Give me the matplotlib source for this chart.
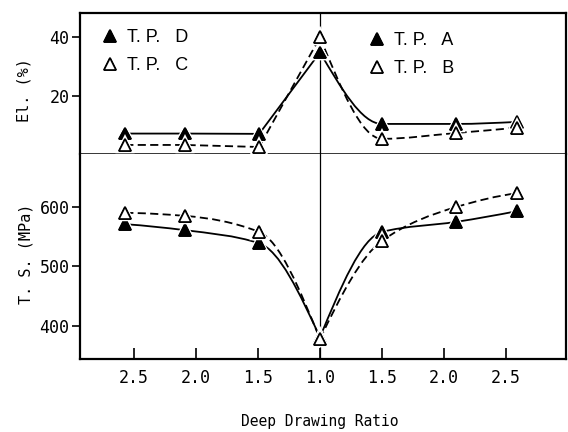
import matplotlib

matplotlib.use("Agg")
import matplotlib.patheffects as pe
import matplotlib.pyplot as plt
import numpy as np
from matplotlib.patches import PathPatch
from matplotlib.path import Path as MplPath

# deep drawing ratio, left half (T.P. D / C) and right half (T.P. A / B)
ratio_left = [2.57, 2.09, 1.49, 1.0]
ratio_right = [1.0, 1.5, 2.10, 2.59]

# elongation (%)
el_d = [7.0, 7.0, 6.9, 34.8]
el_c = [3.1, 3.1, 2.4, 40.0]
el_a = [34.8, 10.3, 10.3, 11.0]
el_b = [40.0, 5.2, 7.2, 9.0]

# tensile strength (MPa)
ts_d = [571, 561, 539, 381]
ts_c = [590, 585, 558, 378]
ts_a = [381, 558, 575, 593]
ts_b = [378, 543, 600, 623]

tick_ratio = [2.5, 2.0, 1.5, 1.0, 1.5, 2.0, 2.5]
tick_side = [-1, -1, -1, 0, 1, 1, 1]

MONO = ["DejaVu Sans Mono"]
SANS = ["Liberation Sans", "DejaVu Sans"]


def to_axis(ratio, side):
    # left half is mirrored around ratio 1.0
    return [side * (r - 1.0) for r in ratio]


def pchip_slopes(x, y):
    h = np.diff(x)
    d = np.diff(y) / h
    n = len(x)
    m = np.zeros(n)
    for k in range(1, n - 1):
        if d[k - 1] * d[k] > 0:
            w1 = 2 * h[k] + h[k - 1]
            w2 = h[k] + 2 * h[k - 1]
            m[k] = (w1 + w2) / (w1 / d[k - 1] + w2 / d[k])
    for k, (h0, h1, d0, d1) in ((0, (h[0], h[1], d[0], d[1])),
                                 (n - 1, (h[-1], h[-2], d[-1], d[-2]))):
        s = ((2 * h0 + h1) * d0 - h0 * d1) / (h0 + h1)
        if np.sign(s) != np.sign(d0):
            s = 0.0
        elif np.sign(d0) != np.sign(d1) and abs(s) > abs(3 * d0):
            s = 3 * d0
        m[k] = s
    return m


def smooth_path(x, y):
    # piecewise cubic bezier through the measured points
    x = np.asarray(x, float)
    y = np.asarray(y, float)
    order = np.argsort(x)
    x, y = x[order], y[order]
    m = pchip_slopes(x, y)
    verts = [(x[0], y[0])]
    codes = [MplPath.MOVETO]
    for i in range(len(x) - 1):
        h = x[i + 1] - x[i]
        verts += [(x[i] + h / 3, y[i] + m[i] * h / 3),
                  (x[i + 1] - h / 3, y[i + 1] - m[i + 1] * h / 3),
                  (x[i + 1], y[i + 1])]
        codes += [MplPath.CURVE4] * 3
    return MplPath(verts, codes)


def draw_series(ax, x, y, filled, smooth=True):
    ls = "-" if filled else (0, (4.5, 2.4))
    if smooth:
        ax.add_patch(PathPatch(smooth_path(x, y), fill=False, edgecolor="black",
                               linewidth=1.3, linestyle=ls, zorder=2))
    else:
        ax.plot(x, y, color="black", linewidth=1.3, linestyle=ls, zorder=2)
    (mk,) = ax.plot(x, y, linestyle="none", marker="^", markersize=8.5,
                    markerfacecolor="black" if filled else "white",
                    markeredgecolor="black", markeredgewidth=1.2, zorder=3)
    mk.set_path_effects([pe.withStroke(linewidth=3.2, foreground="white"), pe.Normal()])
    return mk


def main():
    fig = plt.figure(figsize=(5.68, 4.32), dpi=100)
    W, H = 568.0, 432.0
    left, right = 80 / W, 566 / W
    ax_el = fig.add_axes([left, 1 - 154 / H, right - left, (154 - 13) / H])
    ax_ts = fig.add_axes([left, 1 - 359 / H, right - left, (359 - 154) / H])

    xl = to_axis(ratio_left, -1)
    xr = to_axis(ratio_right, 1)

    m_d = draw_series(ax_el, xl, el_d, True, smooth=False)
    m_c = draw_series(ax_el, xl, el_c, False, smooth=False)
    m_a = draw_series(ax_el, xr, el_a, True)
    m_b = draw_series(ax_el, xr, el_b, False)

    draw_series(ax_ts, xl, ts_d, True)
    draw_series(ax_ts, xl, ts_c, False)
    draw_series(ax_ts, xr, ts_a, True)
    draw_series(ax_ts, xr, ts_b, False)

    for ax in (ax_el, ax_ts):
        ax.set_xlim(-1.935, 1.984)
        ax.axvline(0.0, color="black", linewidth=0.9, zorder=1)
        for side in ("left", "right", "top", "bottom"):
            ax.spines[side].set_linewidth(1.6)
        ax.tick_params(axis="y", direction="out", length=6, width=1.2, pad=1.5)

    ax_el.set_ylim(0, 48.3)
    ax_el.set_yticks([20, 40])
    ax_el.set_xticks([])
    ax_el.spines["bottom"].set_linewidth(1.1)

    ax_ts.set_ylim(344.5, 689)
    ax_ts.set_yticks([400, 500, 600])
    ax_ts.spines["top"].set_visible(False)
    tick_pos = [s * (r - 1.0) for r, s in zip(tick_ratio, tick_side)]
    ax_ts.set_xticks(tick_pos)
    ax_ts.set_xticklabels([f"{r:.1f}" for r in tick_ratio], fontfamily=MONO, fontsize=12)
    ax_ts.tick_params(axis="x", direction="in", length=8, width=1.2, pad=7)
    for ax in (ax_el, ax_ts):
        for lab in ax.get_yticklabels():
            lab.set_fontfamily(MONO)
            lab.set_fontsize(12)

    ax_el.set_ylabel("El. (%)", fontsize=11, fontfamily=MONO)
    ax_el.yaxis.set_label_coords(-0.10, 0.45)
    ax_ts.set_ylabel("T. S. (MPa)", fontsize=11, fontfamily=MONO)
    ax_ts.yaxis.set_label_coords(-0.095, 0.515)
    ax_ts.set_xlabel("Deep Drawing Ratio", fontsize=10.5, fontfamily=MONO)
    ax_ts.xaxis.set_label_coords(0.494, -0.27)

    # two legends: left half (D, C) and right half (A, B)
    leg_kw = dict(frameon=False, numpoints=1, handlelength=0.9, handletextpad=0.5,
                  labelspacing=0.62, borderpad=0, borderaxespad=0,
                  prop={"family": SANS, "size": 13})
    leg1 = ax_el.legend([m_d, m_c], ["T. P.   D", "T. P.   C"], loc="upper left",
                        bbox_to_anchor=(102 / W, 1 - 29 / H),
                        bbox_transform=fig.transFigure, **leg_kw)
    ax_el.add_artist(leg1)
    ax_el.legend([m_a, m_b], ["T. P.   A", "T. P.   B"], loc="upper left",
                 bbox_to_anchor=(369 / W, 1 - 32 / H),
                 bbox_transform=fig.transFigure, **leg_kw)

    fig.savefig("out.png", dpi=100)
    plt.close(fig)


if __name__ == "__main__":
    main()
